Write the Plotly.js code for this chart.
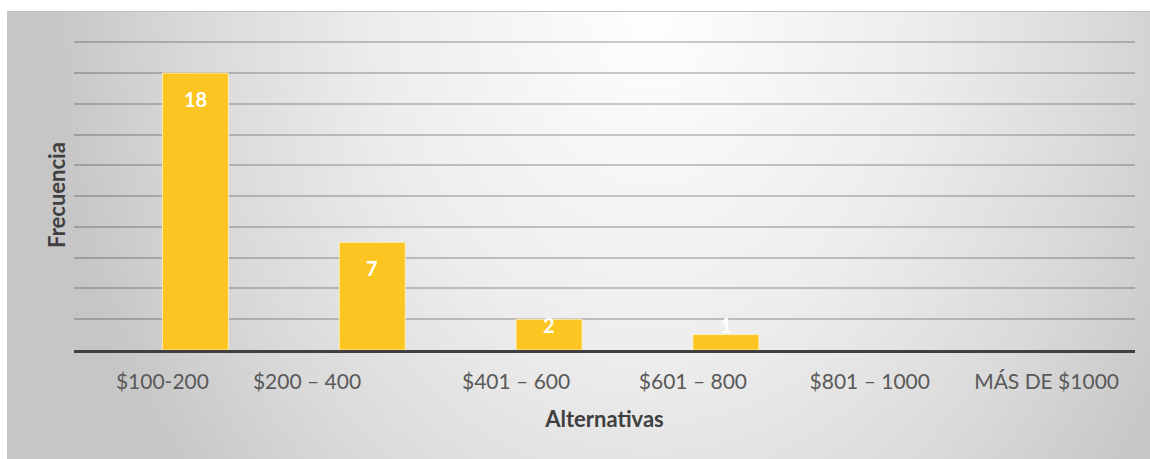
<!DOCTYPE html>
<html>
<head>
<meta charset="utf-8">
<script src="https://cdn.plot.ly/plotly-3.0.1.min.js"></script>
<style>
  html, body { margin: 0; padding: 0; background: #ffffff; }
  #wrap { position: relative; width: 1150px; height: 459px; overflow: hidden; }
  #bg {
    position: absolute; left: 7px; top: 11px; width: 1143px; height: 448px;
    border-top: 1px solid #bdbdbd;
    background: radial-gradient(ellipse 600px 760px at 643px 0px, #fefefe 0%, #ededed 45%, #dadada 75%, #c6c6c6 100%);
  }
  #chart { position: absolute; left: 0; top: 0; width: 1150px; height: 459px; }
</style>
</head>
<body>
<div id="wrap">
  <div id="bg"></div>
  <div id="chart"></div>
</div>
<script>
const categories = ["$100-200", "$200 – 400", "$401 – 600", "$601 – 800", "$801 – 1000", "MÁS DE $1000"];
const tickLabels = ["$100-200", "$200 – 400" + "\u00a0".repeat(12), "$401 – 600", "$601 – 800", "$801 – 1000", "MÁS DE $1000"];
const frecuencia = [18, 7, 2, 1, null, null];
const yTitle = "Frecuencia";
const xTitle = "Alternativas";

const barWidth = 0.373;
const plotTop = 40, plotBottom = 350, yMax = 20, yTop = 20.15;
const ppu = (plotBottom - plotTop) / yTop;

const trace = {
  type: "bar",
  x: categories,
  y: frecuencia,
  width: barWidth,
  offset: 0,
  marker: { color: "#FCC522", line: { color: "rgba(255,240,190,0.9)", width: 1 } },
  hoverinfo: "x+y"
};

const annotations = [];
frecuencia.forEach((v, i) => {
  if (v === null) return;
  const shift = -Math.min(26, v * ppu - 25);
  annotations.push({
    x: i + barWidth / 2, y: v, xref: "x", yref: "y",
    text: String(v), showarrow: false, yanchor: "middle", yshift: shift,
    font: { family: "Lato, 'Open Sans', sans-serif", size: 20, color: "#ffffff", weight: "bold" }
  });
});

const layout = {
  width: 1150, height: 459,
  margin: { l: 74, r: 15, t: plotTop, b: 459 - plotBottom, pad: 0 },
  paper_bgcolor: "rgba(0,0,0,0)",
  plot_bgcolor: "rgba(0,0,0,0)",
  showlegend: false,
  font: { family: "Lato, 'Open Sans', sans-serif", color: "#595959", size: 21 },
  xaxis: {
    type: "category",
    range: [-0.5, 5.5],
    tickvals: categories,
    ticktext: tickLabels,
    showgrid: false,
    showline: true, linecolor: "#404040", linewidth: 3,
    ticks: "",
    ticklabelstandoff: 11,
    tickfont: { size: 21, color: "#595959" },
    title: { text: xTitle, standoff: 20, font: { size: 22, color: "#404040", weight: "bold" } },
    fixedrange: true
  },
  yaxis: {
    range: [0, yTop],
    tickmode: "linear", tick0: 0, dtick: 2,
    showticklabels: false,
    ticks: "",
    showgrid: true, gridcolor: "rgba(0,0,0,0.2)", gridwidth: 2,
    zeroline: false,
    showline: false,
    title: { text: yTitle, standoff: 1, font: { size: 22, color: "#404040", weight: "bold" } },
    fixedrange: true
  },
  annotations: annotations
};

Plotly.newPlot("chart", [trace], layout, { displayModeBar: false, staticPlot: true });
</script>
</body>
</html>
